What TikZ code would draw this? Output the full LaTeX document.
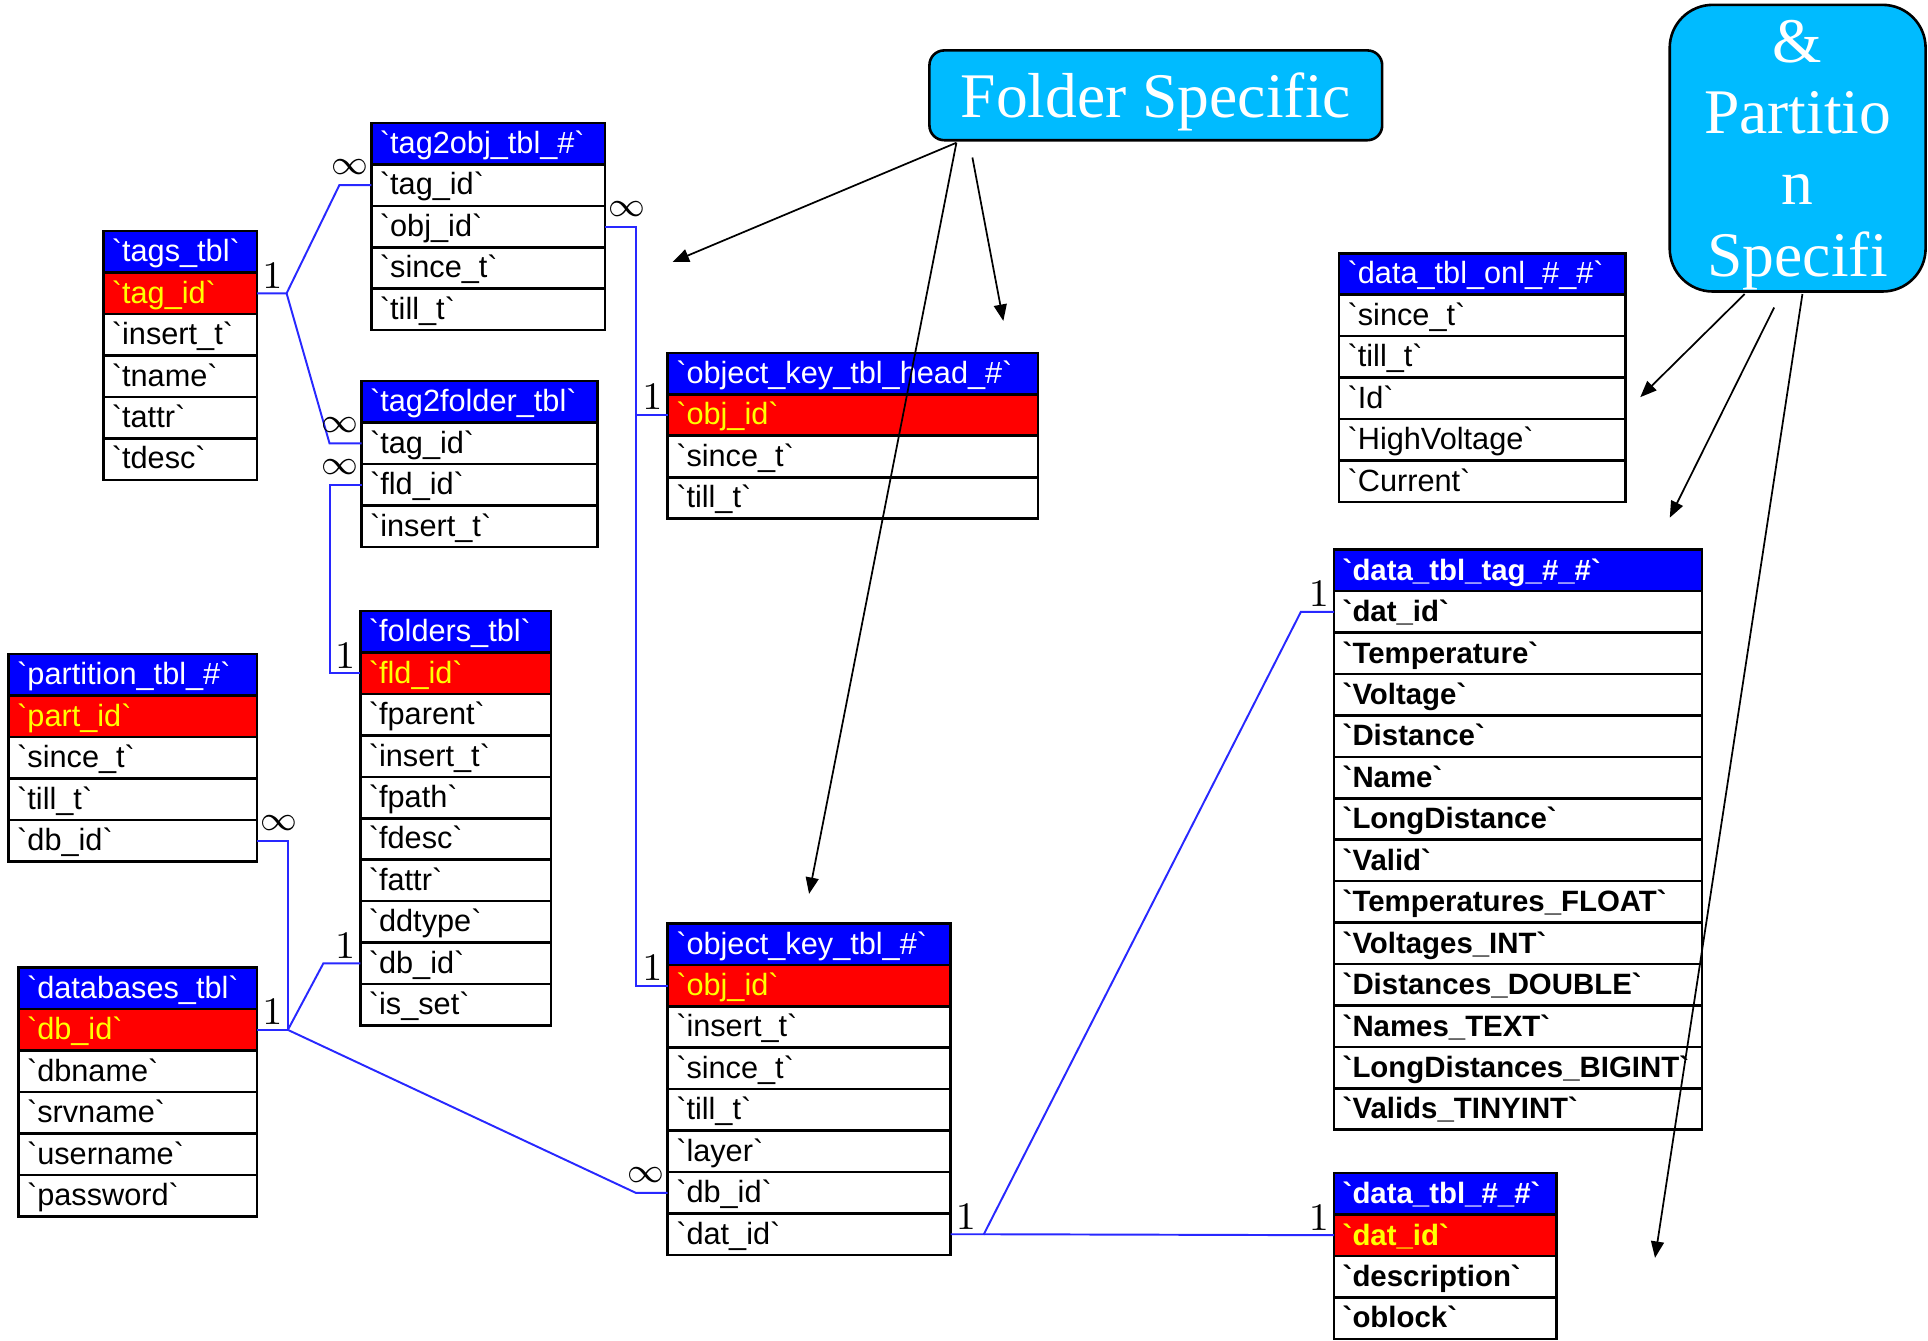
\documentclass[tikz,border=0pt]{standalone}
\usepackage[no-math]{fontspec}
\setmainfont{Liberation Sans}[Ligatures=TeXOff]
\newfontfamily\calloutfont{Liberation Serif}
\usetikzlibrary{positioning, calc, arrows.meta}

\definecolor{hdrblue}{RGB}{0,0,255}
\definecolor{keyred}{RGB}{255,0,0}
\definecolor{keyyellow}{RGB}{255,255,0}
\definecolor{relblue}{RGB}{40,40,255}
\definecolor{calloutcyan}{RGB}{0,187,255}

\tikzset{
  cell/.style={draw=black, line width=0.6pt, anchor=north west, inner xsep=0.07cm, inner ysep=0pt,
    minimum height=0.337cm, text height=1.9mm, text depth=0.3mm, outer sep=0pt, align=left,
    font=\fontsize{7.1}{8}\selectfont},
  hdr/.style={cell, fill=hdrblue, text=white},
  keycell/.style={cell, fill=keyred, text=keyyellow},
  fieldcell/.style={cell, fill=white},
  wide/.style={font=\bfseries\fontsize{6.8}{8}\selectfont},
  rel/.style={draw=relblue, line width=0.45pt},
  card/.style={inner sep=1pt, font=\fontsize{9.2}{10}\selectfont},
  many/.style={inner xsep=0.5pt, inner ysep=2.2pt, font=\fontsize{7.6}{8}\selectfont},
  callout/.style={draw=black, line width=0.6pt, fill=calloutcyan, text=white, align=center,
    text depth=0pt, font=\calloutfont\fontsize{14.7}{16.5}\selectfont},
  pointer/.style={line width=0.4pt, -{Triangle[length=3.8pt, width=3pt]}},
}

\begin{document}
\begin{tikzpicture}[x=0.01cm, y=-0.01cm]
    \useasboundingbox (0,0) rectangle (1568,1090);

    % tags_tbl
    \node[hdr, text width=1.11cm] (tags-0) at (84,188) {\mbox{`tags\_tbl`}};
    \node[keycell, text width=1.11cm] (tags-1) at (84,{188+33.7}) {\mbox{`tag\_id`}};
    \foreach \f [count=\i from 2] in {insert\_t, tname, tattr, tdesc}
        \node[fieldcell, text width=1.11cm] (tags-\i) at (84,{188+\i*33.7}) {\mbox{`\f`}};

    % tag2obj_tbl_#
    \node[hdr, text width=1.76cm] (tgo-0) at (302,100) {\mbox{`tag2obj\_tbl\_\#`}};
    \foreach \f [count=\i] in {tag\_id, obj\_id, since\_t, till\_t}
        \node[fieldcell, text width=1.76cm] (tgo-\i) at (302,{100+\i*33.7}) {\mbox{`\f`}};

    % tag2folder_tbl
    \node[hdr, text width=1.78cm] (tgf-0) at (294,310) {\mbox{`tag2folder\_tbl`}};
    \foreach \f [count=\i] in {tag\_id, fld\_id, insert\_t}
        \node[fieldcell, text width=1.78cm] (tgf-\i) at (294,{310+\i*33.7}) {\mbox{`\f`}};

    % folders_tbl
    \node[hdr, text width=1.41cm] (fld-0) at (293,497) {\mbox{`folders\_tbl`}};
    \node[keycell, text width=1.41cm] (fld-1) at (293,{497+33.7}) {\mbox{`fld\_id`}};
    \foreach \f [count=\i from 2] in {fparent, insert\_t, fpath, fdesc, fattr, ddtype, db\_id, is\_set}
        \node[fieldcell, text width=1.41cm] (fld-\i) at (293,{497+\i*33.7}) {\mbox{`\f`}};

    % partition_tbl_#
    \node[hdr, text width=1.88cm] (part-0) at (7,532) {\mbox{`partition\_tbl\_\#`}};
    \node[keycell, text width=1.88cm] (part-1) at (7,{532+33.7}) {\mbox{`part\_id`}};
    \foreach \f [count=\i from 2] in {since\_t, till\_t, db\_id}
        \node[fieldcell, text width=1.88cm] (part-\i) at (7,{532+\i*33.7}) {\mbox{`\f`}};

    % databases_tbl
    \node[hdr, text width=1.80cm] (dbs-0) at (15,787) {\mbox{`databases\_tbl`}};
    \node[keycell, text width=1.80cm] (dbs-1) at (15,{787+33.7}) {\mbox{`db\_id`}};
    \foreach \f [count=\i from 2] in {dbname, srvname, username, password}
        \node[fieldcell, text width=1.80cm] (dbs-\i) at (15,{787+\i*33.7}) {\mbox{`\f`}};

    % object_key_tbl_head_#
    \node[hdr, text width=2.87cm] (okh-0) at (543,287) {\mbox{`object\_key\_tbl\_head\_\#`}};
    \node[keycell, text width=2.87cm] (okh-1) at (543,{287+33.7}) {\mbox{`obj\_id`}};
    \foreach \f [count=\i from 2] in {since\_t, till\_t}
        \node[fieldcell, text width=2.87cm] (okh-\i) at (543,{287+\i*33.7}) {\mbox{`\f`}};

    % object_key_tbl_#
    \node[hdr, text width=2.16cm] (okey-0) at (543,751) {\mbox{`object\_key\_tbl\_\#`}};
    \node[keycell, text width=2.16cm] (okey-1) at (543,{751+33.7}) {\mbox{`obj\_id`}};
    \foreach \f [count=\i from 2] in {insert\_t, since\_t, till\_t, layer, db\_id, dat\_id}
        \node[fieldcell, text width=2.16cm] (okey-\i) at (543,{751+\i*33.7}) {\mbox{`\f`}};

    % data_tbl_onl_#_#
    \node[hdr, text width=2.19cm] (onl-0) at (1089,206) {\mbox{`data\_tbl\_onl\_\#\_\#`}};
    \foreach \f [count=\i] in {since\_t, till\_t, Id, HighVoltage, Current}
        \node[fieldcell, text width=2.19cm] (onl-\i) at (1089,{206+\i*33.7}) {\mbox{`\f`}};

    % data_tbl_tag_#_#
    \node[hdr, wide, text width=2.85cm] (dtag-0) at (1085,447) {\mbox{`data\_tbl\_tag\_\#\_\#`}};
    \foreach \f [count=\i] in {dat\_id, Temperature, Voltage, Distance, Name, LongDistance, Valid,
        Temperatures\_FLOAT, Voltages\_INT, Distances\_DOUBLE, Names\_TEXT, LongDistances\_BIGINT, Valids\_TINYINT}
        \node[fieldcell, wide, text width=2.85cm] (dtag-\i) at (1085,{447+\i*33.7}) {\mbox{`\f`}};

    % data_tbl_#_#
    \node[hdr, wide, text width=1.67cm] (dat-0) at (1085,954) {\mbox{`data\_tbl\_\#\_\#`}};
    \node[keycell, wide, text width=1.67cm] (dat-1) at (1085,{954+33.7}) {\mbox{`dat\_id`}};
    \foreach \f [count=\i from 2] in {description, oblock}
        \node[fieldcell, wide, text width=1.67cm] (dat-\i) at (1085,{954+\i*33.7}) {\mbox{`\f`}};

    % Relations
    \draw[rel] (tags-1.east) -- ++(24,0) coordinate (tj) -- ($(tgo-1.west)+(-26,0)$) -- (tgo-1.west);
    \draw[rel] (tj) -- ($(tgf-1.west)+(-26,0)$) -- (tgf-1.west);
    \draw[rel] (tgo-2.east) -- ++(25,0) coordinate (oj) -- (oj |- okey-1.west) -- (okey-1.west);
    \draw[rel] (oj |- okh-1.west) -- (okh-1.west);
    \draw[rel] (tgf-2.west) -- ++(-26,0) coordinate (fj) -- (fj |- fld-1.west) -- (fld-1.west);
    \draw[rel] (part-4.east) -- ++(25,0) coordinate (pj) -- (pj |- dbs-1.east) coordinate (dj) -- (dbs-1.east);
    \draw[rel] (dj) -- ($(fld-8.west)+(-30,0)$) -- (fld-8.west);
    \draw[rel] (dj) -- ($(okey-6.west)+(-26,0)$) -- (okey-6.west);
    \draw[rel] (okey-7.east) -- ++(27,0) coordinate (kj) -- ($(dtag-1.west)+(-27,0)$) -- (dtag-1.west);
    \draw[rel] (kj) -- (dat-1.west);

    % Cardinalities
    \node[card, anchor=south west] (c-tags) at (tags-1.east) {$1$};
    \node[many, anchor=south east] (c-tgo1) at (tgo-1.west) {$\infty$};
    \node[many, anchor=south west] (c-tgo2) at (tgo-2.east) {$\infty$};
    \node[many, anchor=south east] (c-tgf1) at (tgf-1.west) {$\infty$};
    \node[many, anchor=south east] (c-tgf2) at (tgf-2.west) {$\infty$};
    \node[card, anchor=south east] (c-fld1) at (fld-1.west) {$1$};
    \node[many, anchor=south west] (c-part) at (part-4.east) {$\infty$};
    \node[card, anchor=south west] (c-dbs) at (dbs-1.east) {$1$};
    \node[card, anchor=south east] (c-fld8) at (fld-8.west) {$1$};
    \node[card, anchor=south east] (c-okh) at (okh-1.west) {$1$};
    \node[card, anchor=south east] (c-okey1) at (okey-1.west) {$1$};
    \node[many, anchor=south east] (c-okey6) at (okey-6.west) {$\infty$};
    \node[card, anchor=south west] (c-okey7) at (okey-7.east) {$1$};
    \node[card, anchor=south east] (c-dtag) at (dtag-1.west) {$1$};
    \node[card, anchor=south east] (c-dat) at (dat-1.west) {$1$};

    % Callouts
    \node[callout, rounded corners=0.12cm, minimum width=3.68cm, minimum height=0.73cm] (folderspec) at (940,77.5) {Folder Specific};
    \node[callout, rounded corners=0.35cm, minimum width=2.08cm, minimum height=2.33cm] (partspec) at (1462,120.5) {\&\\Partitio\\n\\Specifi};

    % Pointer ends
    \coordinate (fa1) at (547,213);
    \coordinate (fa2) at (816,261);
    \coordinate (fa3) at (658,727);
    \coordinate (pa1) at (1334,323);
    \coordinate (pa2) at (1358,421);
    \coordinate (pa3) at (1346,1023);

    \draw[pointer] ($(folderspec.south west)+(23,1)$) -- (fa1);
    \draw[pointer] ($(folderspec.south west)+(36,13)$) -- (fa2);
    \draw[pointer] ($(folderspec.south west)+(23,1)$) -- (fa3);
    \draw[pointer] ($(partspec.south west)+(62,1)$) -- (pa1);
    \draw[pointer] ($(partspec.south west)+(86,12)$) -- (pa2);
    \draw[pointer] ($(partspec.south west)+(109,1)$) -- (pa3);
\end{tikzpicture}
\end{document}
